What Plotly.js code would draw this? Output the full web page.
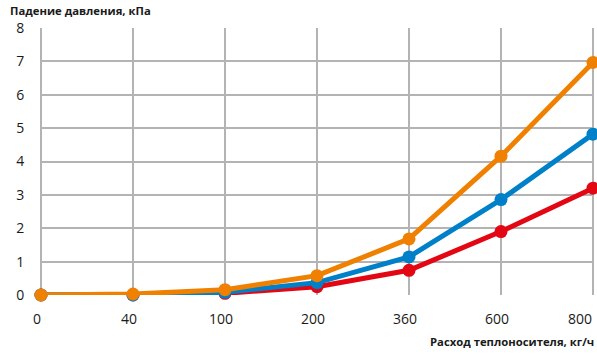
<!DOCTYPE html>
<html>
<head>
<meta charset="utf-8">
<script src="https://cdn.plot.ly/plotly-3.0.1.min.js"></script>
<style>html,body{margin:0;padding:0;background:#fff;}#chart{width:597px;height:354px;}</style>
</head>
<body>
<div id="chart"></div>
<script>
const categories = ["0", "40", "100", "200", "360", "600", "800"];
const seriesRed = [0, 0, 0.05, 0.25, 0.74, 1.9, 3.2];
const seriesBlue = [0, 0, 0.08, 0.37, 1.14, 2.86, 4.82];
const seriesOrange = [0, 0.03, 0.16, 0.58, 1.68, 4.16, 6.97];
const yTicks = [0, 1, 2, 3, 4, 5, 6, 7, 8];
const yTitle = "Падение давления, кПа";
const xTitle = "Расход теплоносителя, кг/ч";

function tr(y, color) {
  return {
    x: categories, y: y, type: "scatter", mode: "lines+markers",
    line: {color: color, width: 5},
    marker: {color: color, size: 13},
    cliponaxis: false, showlegend: false, hoverinfo: "skip"
  };
}
const data = [tr(seriesRed, "#e30613"), tr(seriesBlue, "#0080c9"), tr(seriesOrange, "#f08000")];
const fam = "Open Sans, Noto Sans, sans-serif";
const font = {family: fam, size: 14, color: "#1a1a1a"};
const titleFont = {family: fam, size: 11.3, color: "#1a1a1a"};

const last = categories.length - 1;
const tickAnns = categories.map((c, i) => ({
  text: c, xref: "x", yref: "paper", x: i, y: 0,
  xanchor: i === last ? "right" : "center",
  yanchor: "middle", xshift: i === last ? 1 : -4, yshift: -23,
  showarrow: false, font: font
}));

const layout = {
  width: 597, height: 354,
  margin: {l: 41, r: 4, t: 28, b: 59},
  paper_bgcolor: "#fff", plot_bgcolor: "#fff",
  font: font,
  xaxis: {
    type: "category", range: [0, 6], showgrid: true, gridcolor: "#b3b3b3", gridwidth: 2,
    zeroline: false, showline: false, ticks: "", showticklabels: false,
    automargin: false, fixedrange: true
  },
  yaxis: {
    range: [0, 8], tickvals: yTicks, showgrid: true, gridcolor: "#b3b3b3", gridwidth: 2,
    zeroline: false, showline: false, ticks: "outside", ticklen: 13, tickcolor: "rgba(0,0,0,0)",
    tickfont: font, automargin: false, fixedrange: true
  },
  shapes: [
    {type: "line", xref: "paper", yref: "paper", x0: 0, x1: 0, y0: 0, y1: 1, line: {color: "#b3b3b3", width: 2}, layer: "below"},
    {type: "line", xref: "paper", yref: "paper", x0: 1, x1: 1, y0: 0, y1: 1, line: {color: "#b3b3b3", width: 2}, layer: "below"}
  ],
  annotations: [
    {text: "<b>" + yTitle + "</b>", xref: "paper", yref: "paper", x: -41/552, y: 1, xanchor: "left", yanchor: "bottom", xshift: 8, yshift: 8, showarrow: false, font: titleFont},
    {text: "<b>" + xTitle + "</b>", xref: "paper", yref: "paper", x: 1, y: 0, xanchor: "right", yanchor: "top", xshift: 3, yshift: -37, showarrow: false, font: titleFont}
  ].concat(tickAnns)
};
Plotly.newPlot("chart", data, layout, {staticPlot: true, displayModeBar: false});
</script>
</body>
</html>
